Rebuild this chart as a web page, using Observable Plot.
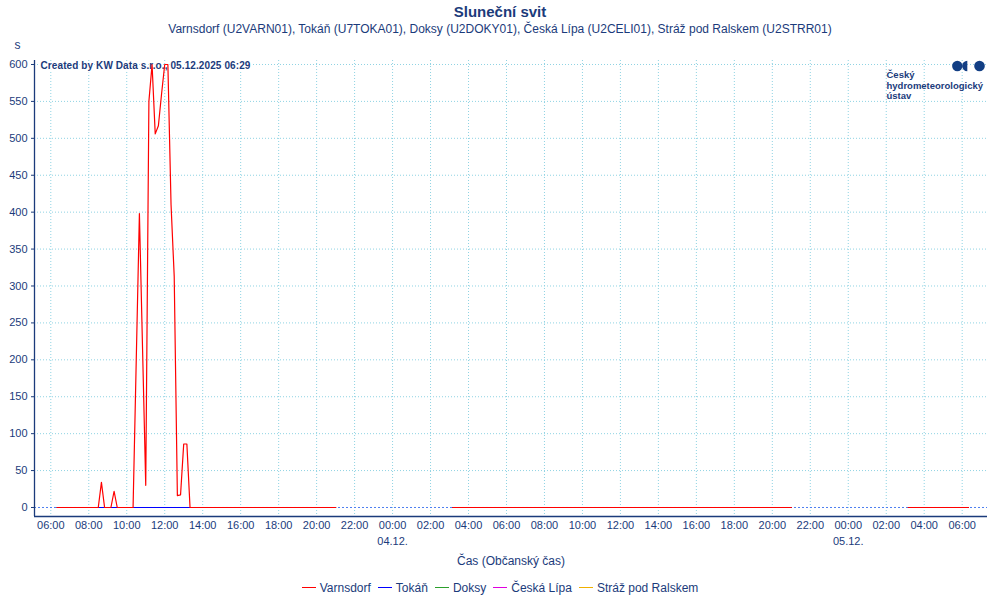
<!DOCTYPE html>
<html><head><meta charset="utf-8">
<script src="https://cdn.jsdelivr.net/npm/d3@7"></script>
<script src="https://cdn.jsdelivr.net/npm/@observablehq/plot@0.6"></script>
<style>
body{margin:0;background:#fff;font-family:"Liberation Sans",Arial,sans-serif;color:#1b3b7b;width:1000px;}
#title{height:24px;line-height:24px;text-align:center;font-weight:bold;font-size:15px;}
#subtitle{height:14px;line-height:14px;text-align:center;font-size:12px;margin-top:-2px;margin-bottom:2px;}
#chart svg{display:block}
#legend{height:25px;display:flex;justify-content:center;align-items:center;font-size:12px;gap:7px}
.item{display:flex;align-items:center}
.sw{display:inline-block;width:14px;height:0;border-top:1px solid;margin-right:4px}
</style></head><body>
<div id="title">Sluneční svit</div>
<div id="subtitle">Varnsdorf (U2VARN01), Tokáň (U7TOKA01), Doksy (U2DOKY01), Česká Lípa (U2CELI01), Stráž pod Ralskem (U2STRR01)</div>
<div id="chart"></div>
<div id="legend"></div>
<script>
const navy = "#1b3b7b";
const gridColor = "#8fd3e3";
const seriesNames = ["Varnsdorf", "Tokáň", "Doksy", "Česká Lípa", "Stráž pod Ralskem"];
const seriesColors = ["#ff0000", "#0000ff", "#2ca02c", "#e000e0", "#f0b000"];

// Varnsdorf (10-minute sunshine, seconds); null = missing data
const varnsdorfTimes = [
  "2025-12-03T06:20Z","2025-12-03T08:30Z","2025-12-03T08:40Z","2025-12-03T08:50Z",
  "2025-12-03T09:10Z","2025-12-03T09:20Z","2025-12-03T09:30Z","2025-12-03T10:20Z",
  "2025-12-03T10:30Z","2025-12-03T10:40Z","2025-12-03T10:50Z","2025-12-03T11:00Z",
  "2025-12-03T11:10Z","2025-12-03T11:20Z","2025-12-03T11:30Z","2025-12-03T11:40Z",
  "2025-12-03T11:50Z","2025-12-03T12:00Z","2025-12-03T12:10Z","2025-12-03T12:20Z",
  "2025-12-03T12:30Z","2025-12-03T12:40Z","2025-12-03T12:50Z","2025-12-03T13:00Z",
  "2025-12-03T13:10Z","2025-12-03T13:20Z","2025-12-03T21:00Z","2025-12-03T21:10Z",
  "2025-12-04T03:10Z","2025-12-04T21:00Z","2025-12-04T21:10Z",
  "2025-12-05T03:10Z","2025-12-05T06:20Z"
];
const varnsdorfValues = [
  0, 0, 34, 0,
  0, 22, 0, 0,
  199, 398, 214, 30,
  550, 600, 506, 517,
  560, 600, 600, 410,
  313, 16, 17, 86,
  86, 0, 0, null,
  0, 0, null,
  0, 0
];
// Tokáň, Doksy, Česká Lípa, Stráž pod Ralskem: all zero where data exist
const otherTimes = [
  "2025-12-03T06:20Z","2025-12-03T21:00Z","2025-12-03T21:10Z",
  "2025-12-04T03:10Z","2025-12-04T21:00Z","2025-12-04T21:10Z",
  "2025-12-05T03:10Z","2025-12-05T06:20Z"
];
const tokanValues  = [0, 0, null, 0, 0, null, 0, 0];
const doksyValues  = [0, 0, null, 0, 0, null, 0, 0];
const celiValues   = [0, 0, null, 0, 0, null, 0, 0];
const strazValues  = [0, 0, null, 0, 0, null, 0, 0];

const yTicks = [0, 50, 100, 150, 200, 250, 300, 350, 400, 450, 500, 550, 600];
const dateTickStrings = ["2025-12-04T00:00Z", "2025-12-05T00:00Z"];
const xDomainStrings = ["2025-12-03T05:08:30Z", "2025-12-05T07:20Z"];
const yDomain = [-12.2, 605.4];
const credit = "Created by KW Data s.r.o., 05.12.2025 06:29";
const logoText = "Český\nhydrometeorologický\nústav";

const parse = s => new Date(s);
const xDomain = xDomainStrings.map(parse);
const dateTicks = dateTickStrings.map(parse);
const xTicks = d3.utcHour.every(2).range(parse("2025-12-03T06:00Z"), parse("2025-12-05T07:00Z"));

const mk = (times, values) => times.map((t, i) => ({time: parse(t), value: values[i]}));
const series = [
  {name: seriesNames[0], color: seriesColors[0], data: mk(varnsdorfTimes, varnsdorfValues)},
  {name: seriesNames[1], color: seriesColors[1], data: mk(otherTimes, tokanValues)},
  {name: seriesNames[2], color: seriesColors[2], data: mk(otherTimes, doksyValues)},
  {name: seriesNames[3], color: seriesColors[3], data: mk(otherTimes, celiValues)},
  {name: seriesNames[4], color: seriesColors[4], data: mk(otherTimes, strazValues)}
];

const plot = Plot.plot({
  width: 1000, height: 537,
  marginTop: 22, marginBottom: 59, marginLeft: 34, marginRight: 13,
  style: {fontFamily: '"Liberation Sans", Arial, sans-serif', fontSize: "11px", color: navy, background: "white", overflow: "visible"},
  x: {type: "utc", domain: xDomain},
  y: {domain: yDomain},
  marks: [
    Plot.ruleY(yTicks.filter(d => d !== 0), {stroke: gridColor, strokeDasharray: "1,2"}),
    Plot.ruleX(xTicks, {stroke: gridColor, strokeDasharray: "1,2"}),
    Plot.ruleY([0], {stroke: "#4d7ff0", strokeDasharray: "2,2"}),
    Plot.text([credit], {text: d => d, frameAnchor: "top-left", dx: 6, dy: 5, textAnchor: "start", lineAnchor: "middle",
      fontWeight: "bold", fontSize: 10, fill: navy, stroke: "white", strokeWidth: 3}),
    Plot.text([logoText], {text: d => d, frameAnchor: "top-right", dx: -101, dy: 10, textAnchor: "start", lineAnchor: "top",
      fontWeight: "bold", fontSize: 9.5, lineHeight: 1.12, fill: navy}),
    ...series.slice().reverse().map(s => Plot.line(s.data, {x: "time", y: "value", stroke: s.color, strokeWidth: 1.2})),
    Plot.ruleX([xDomain[0]], {stroke: navy, strokeWidth: 1.3}),
    Plot.ruleY([yDomain[0]], {stroke: navy, strokeWidth: 1.3}),
    Plot.axisY({ticks: yTicks, tickSize: 3, tickPadding: 4, label: null, fontSize: 11, stroke: navy}),
    Plot.axisX({ticks: xTicks, tickFormat: d3.utcFormat("%H:%M"), tickSize: 0, tickPadding: 5, label: null, fontSize: 11}),
    Plot.axisX({ticks: dateTicks, tickFormat: d3.utcFormat("%d.%m."), tickSize: 0, tickPadding: 21, label: null, fontSize: 11}),
    Plot.text(["s"], {text: d => d, frameAnchor: "top-left", dx: -17, dy: -15, textAnchor: "middle", lineAnchor: "middle", fontSize: 12, fill: navy}),
    Plot.text(["Čas (Občanský čas)"], {text: d => d, frameAnchor: "bottom", dy: 45, lineAnchor: "middle", fontSize: 12, fill: navy})
  ]
});
document.getElementById("chart").appendChild(plot);

// credit text spacing
d3.select(plot).selectAll("text").filter(function() { return this.textContent === credit; }).style("letter-spacing", "0.1px");

// logo circles
const svg = d3.select(plot);
const g = svg.append("g").attr("fill", "#123e84");
g.append("circle").attr("cx", 957.3).attr("cy", 28).attr("r", 5.2);
g.append("path").attr("d", "M967.3,22.8 A5.2,5.2 0 0 0 967.3,33.2 Z");
g.append("circle").attr("cx", 979.5).attr("cy", 28).attr("r", 5.3);

// legend
const legend = d3.select("#legend");
series.forEach(s => {
  const it = legend.append("div").attr("class", "item");
  it.append("span").attr("class", "sw").style("border-top-color", s.color);
  it.append("span").text(s.name);
});
</script>
</body></html>
